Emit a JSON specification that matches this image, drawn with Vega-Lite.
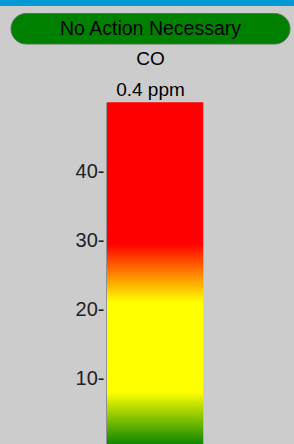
{
  "$schema": "https://vega.github.io/schema/vega-lite/v6.json",
  "width": 294,
  "height": 444,
  "padding": 0,
  "autosize": {"type": "none"},
  "background": "#cccccc",
  "view": {
    "stroke": null,
    "fill": {
      "gradient": "linear", "x1": 0, "y1": 0, "x2": 0, "y2": 1,
      "stops": [
        {"offset": 0, "color": "#0099d6"},
        {"offset": 0.0135, "color": "#0099d6"},
        {"offset": 0.0136, "color": "#cccccc"},
        {"offset": 1, "color": "#cccccc"}
      ]
    }
  },
  "datasets": {
    "gauge": [{"sensor": "CO", "low": 0, "high": 50}],
    "header": [
      {"sensor": "CO", "row": "status", "label": "No Action Necessary"},
      {"sensor": "CO", "row": "pollutant", "label": "CO"},
      {"sensor": "CO", "row": "reading", "label": "0.4 ppm"}
    ]
  },
  "layer": [
    {
      "data": {"name": "gauge"},
      "mark": {
        "type": "rect",
        "color": {
          "gradient": "linear", "x1": 0, "y1": 1, "x2": 0, "y2": 0,
          "stops": [
            {"offset": 0, "color": "#008000"},
            {"offset": 0.16, "color": "#ffff00"},
            {"offset": 0.42, "color": "#ffff00"},
            {"offset": 0.59, "color": "#ff0000"},
            {"offset": 1, "color": "#ff0000"}
          ]
        }
      },
      "encoding": {
        "x": {"field": "sensor", "type": "nominal", "scale": {"range": [107, 203.3], "paddingInner": 0, "paddingOuter": 0}, "axis": null},
        "y": {
          "field": "low", "type": "quantitative",
          "scale": {"domain": [0, 50], "range": [447.3, 102.3], "nice": false},
          "axis": {
            "orient": "left", "offset": -106, "values": [10, 20, 30, 40],
            "labelExpr": "datum.label + '-'", "ticks": false, "grid": false,
            "domain": true, "domainColor": "#909090", "domainWidth": 1,
            "labelFont": "Liberation Sans", "labelFontSize": 20, "labelColor": "#222222",
            "labelPadding": 2, "title": null
          }
        },
        "y2": {"field": "high"}
      }
    },
    {
      "data": {"name": "header"},
      "encoding": {
        "x": {"field": "sensor", "type": "nominal", "scale": {"range": [11, 290], "paddingInner": 0, "paddingOuter": 0}, "axis": null},
        "y": {"field": "row", "type": "nominal", "sort": null, "scale": {"domain": ["status", "pollutant", "reading"], "range": [13.5, 105], "paddingInner": 0, "paddingOuter": 0}, "axis": null}
      },
      "layer": [
        {
          "transform": [{"filter": "datum.row === 'status'"}],
          "mark": {"type": "rect", "color": "#008000", "stroke": "#557055", "strokeWidth": 1, "cornerRadius": 15.25}
        },
        {
          "transform": [{"filter": "datum.row === 'status'"}],
          "mark": {"type": "text", "font": "Liberation Sans", "fontSize": 19.5, "color": "#000000"},
          "encoding": {"text": {"field": "label"}}
        },
        {
          "transform": [{"filter": "datum.row !== 'status'"}],
          "mark": {"type": "text", "font": "Liberation Sans", "fontSize": 19, "color": "#000000"},
          "encoding": {"text": {"field": "label"}}
        }
      ]
    }
  ],
  "resolve": {"scale": {"x": "independent", "y": "independent"}}
}
